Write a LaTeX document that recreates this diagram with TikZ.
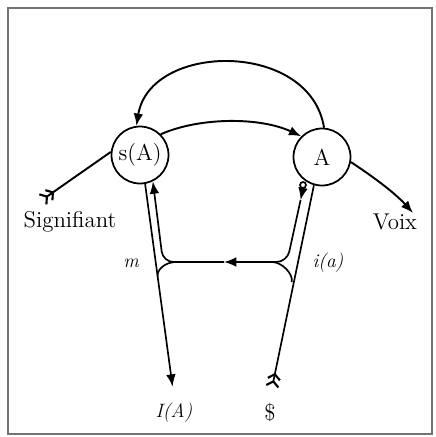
\documentclass[tikz,border=0pt]{standalone}
\usetikzlibrary{arrows.meta}

\begin{document}
\begin{tikzpicture}[x=0.02cm, y=-0.02cm,
    lieu/.style={draw, circle, line width=1pt, minimum size=1.14cm, inner sep=0pt, font=\fontsize{13}{15}\selectfont},
    vec/.style={line width=1.1pt},
    rail/.style={line width=0.95pt},
    tip/.style={-{Latex[length=7pt,width=5.5pt]}},
    plume/.style={{Straight Barb[reversed,length=2.8pt,width=7pt,line width=1.2pt] Straight Barb[reversed,length=2.8pt,width=7pt,line width=1.2pt]}-},
    lab/.style={font=\fontsize{13}{15}\selectfont},
    ital/.style={font=\fontsize{11}{13}\selectfont\itshape}]
    \useasboundingbox (0,0) rectangle (436,437);
    \draw[black!55, line width=1.2pt] (8,8) rectangle (432,434);

    \node[lieu] (sA) at (140,155) {s(A)};
    \node[lieu] (A) at (322,157) {A};
    \node[lab] (sig) at (70,222) {Signifiant};
    \node[lab] (voix) at (395,222) {Voix};
    \node[ital] (m) at (131,263) {m};
    \node[ital] (ia) at (328,263) {i(a)};
    \node[ital] (IA) at (174,413) {I(A)};
    \node[lab] (S) at (270,413) {\$};

    \coordinate (s0) at (42,200);
    \coordinate (v1) at (413,213);
    \coordinate (ring) at (303,185);

    % chaine signifiante
    \draw[vec, plume] (s0) -- (sA.174);
    \draw[vec, tip] (sA.45) .. controls (200,117) and (260,117) .. (A.135);
    \draw[vec, tip] (A.86) .. controls (310,40) and (150,42) .. (sA.97);
    \draw[vec, tip] (A.-10) .. controls (372,176) and (394,192) .. (v1);

    % vecteurs du bas
    \draw[rail] (ring) circle [radius=3];
    \draw[rail, tip] (303,188) -- (300.6,200);
    \draw[rail, tip, rounded corners=6pt] (300.6,200) -- (287,262) -- (224,262);
    \draw[rail, tip, rounded corners=6pt] (224,262) -- (163,262) -- (sA.-64);
    \draw[rail, tip, shorten >=6pt] (sA.-80) -- (IA.north);
    \draw[rail, plume, shorten <=6pt] (S.north) -- (A.-106);
    \draw[rail] (176,262) .. controls (166,262) and (156.5,269) .. (157.6,277);
    \draw[rail] (272,262) .. controls (282,262) and (293.5,274) .. (291.7,282);
\end{tikzpicture}
\end{document}
